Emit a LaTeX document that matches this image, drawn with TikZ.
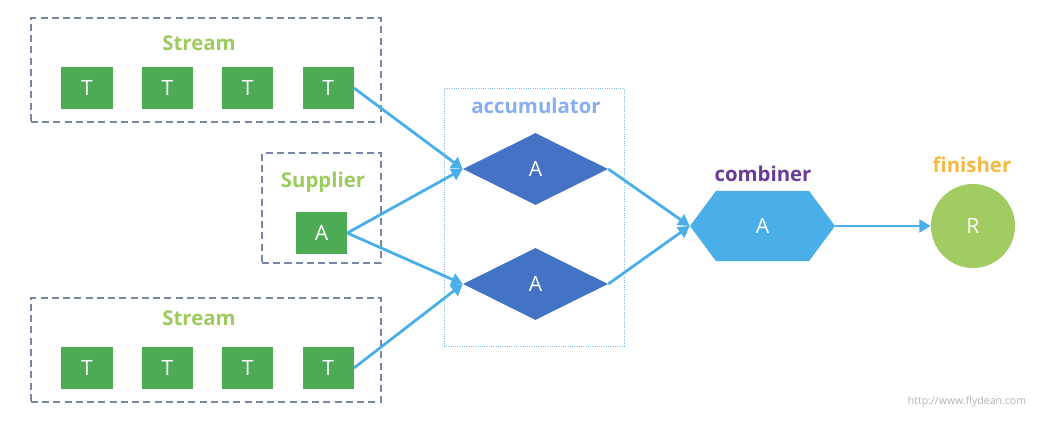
\documentclass[tikz,border=0pt]{standalone}
\usepackage{fontspec}
\setmainfont{Open Sans}
\usepackage{xcolor}
\usepackage{tikz}
\usetikzlibrary{shapes.geometric, shapes.symbols, arrows.meta, positioning}
\definecolor{tgreen}{RGB}{76,171,84}
\definecolor{lblgreen}{RGB}{157,203,94}
\definecolor{accblue}{RGB}{68,114,196}
\definecolor{lineblue}{RGB}{74,174,232}
\definecolor{boxgrey}{RGB}{122,134,168}
\definecolor{dotblue}{RGB}{126,190,236}
\definecolor{labblue}{RGB}{135,175,240}
\definecolor{mypurple}{RGB}{104,60,150}
\definecolor{myorange}{RGB}{245,185,66}
\definecolor{rgreen}{RGB}{160,204,98}
\tikzstyle{elem} = [fill=tgreen, text=white, minimum width=1.275cm, minimum height=1.05cm, inner sep=0pt, font=\fontsize{15}{15}\selectfont]
\tikzstyle{group} = [draw=boxgrey, dash pattern=on 5pt off 3pt, line width=0.8pt, inner sep=0pt]
\tikzstyle{arrow} = [line width=2pt, draw=lineblue, -{Triangle[length=8pt,width=9pt]}]

\begin{document}
\begin{tikzpicture}[x=0.025cm, y=-0.025cm, node distance=0.72cm,
    lbl/.style={font=\fontsize{14.5}{15}\selectfont\bfseries},
    acc/.style={diamond, fill=accblue, text=white, minimum width=3.625cm, minimum height=1.8cm, inner sep=0pt, font=\fontsize{15}{15}\selectfont}]
    \useasboundingbox (0,0) rectangle (1055,437);
    % groups
    \node[group, minimum width=8.75cm, minimum height=2.6cm] (top) at (206,70) {};
    \node[group, minimum width=2.975cm, minimum height=2.75cm] (sup) at (321.5,208) {};
    \node[group, minimum width=8.75cm, minimum height=2.6cm] (bot) at (206,350) {};
    \node[draw=dotblue, densely dotted, line width=0.6pt, minimum width=4.5cm, minimum height=6.45cm, inner sep=0pt] (accbox) at (534,217) {};
    \node[lbl, text=lblgreen] (toplbl) at (199,43) {Stream};
    \node[lbl, text=lblgreen] (suplbl) at (323,182) {Supplier};
    \node[lbl, text=lblgreen] (botlbl) at (199,318) {Stream};
    \node[lbl, text=labblue] (acclbl) at (536,106) {accumulator};
    \node[lbl, text=mypurple] (comblbl) at (763,174) {combiner};
    \node[lbl, text=myorange] (finlbl) at (972,165) {finisher};
    % elements
    \node[elem] (t1) at (87,88) {T};
    \node[elem, right=of t1] (t2) {T};
    \node[elem, right=of t2] (t3) {T};
    \node[elem, right=of t3] (t4) {T};
    \node[elem] (s) at (321.5,233) {A};
    \node[elem] (b1) at (87,368) {T};
    \node[elem, right=of b1] (b2) {T};
    \node[elem, right=of b2] (b3) {T};
    \node[elem, right=of b3] (b4) {T};
    \node[acc] (a1) at (535.5,169) {A};
    \node[acc] (a2) at (535.5,284) {A};
    \node[signal, signal to=east and west, signal pointer angle=107, fill=lineblue, text=white, minimum width=3.625cm, minimum height=1.75cm, inner sep=0pt, font=\fontsize{15}{15}\selectfont] (comb) at (762.5,226) {A};
    \node[circle, fill=rgreen, text=white, minimum size=2.1cm, inner sep=0pt, font=\fontsize{15}{15}\selectfont] (fin) at (973,226) {R};
    \node[text=gray!60, font=\fontsize{7.5}{7.5}\selectfont] (url) at (967,402) {http://www.flydean.com};
    % connectors
    \draw[arrow] (t4.east) -- (a1.west); \draw[arrow] (s.east) -- (a1.west);
    \draw[arrow] (s.east) -- (a2.west); \draw[arrow] (b4.east) -- (a2.west);
    \draw[arrow] (a1.east) -- (comb.west); \draw[arrow] (a2.east) -- (comb.west);
    \draw[arrow] (comb.east) -- (fin.west);
\end{tikzpicture}
\end{document}
